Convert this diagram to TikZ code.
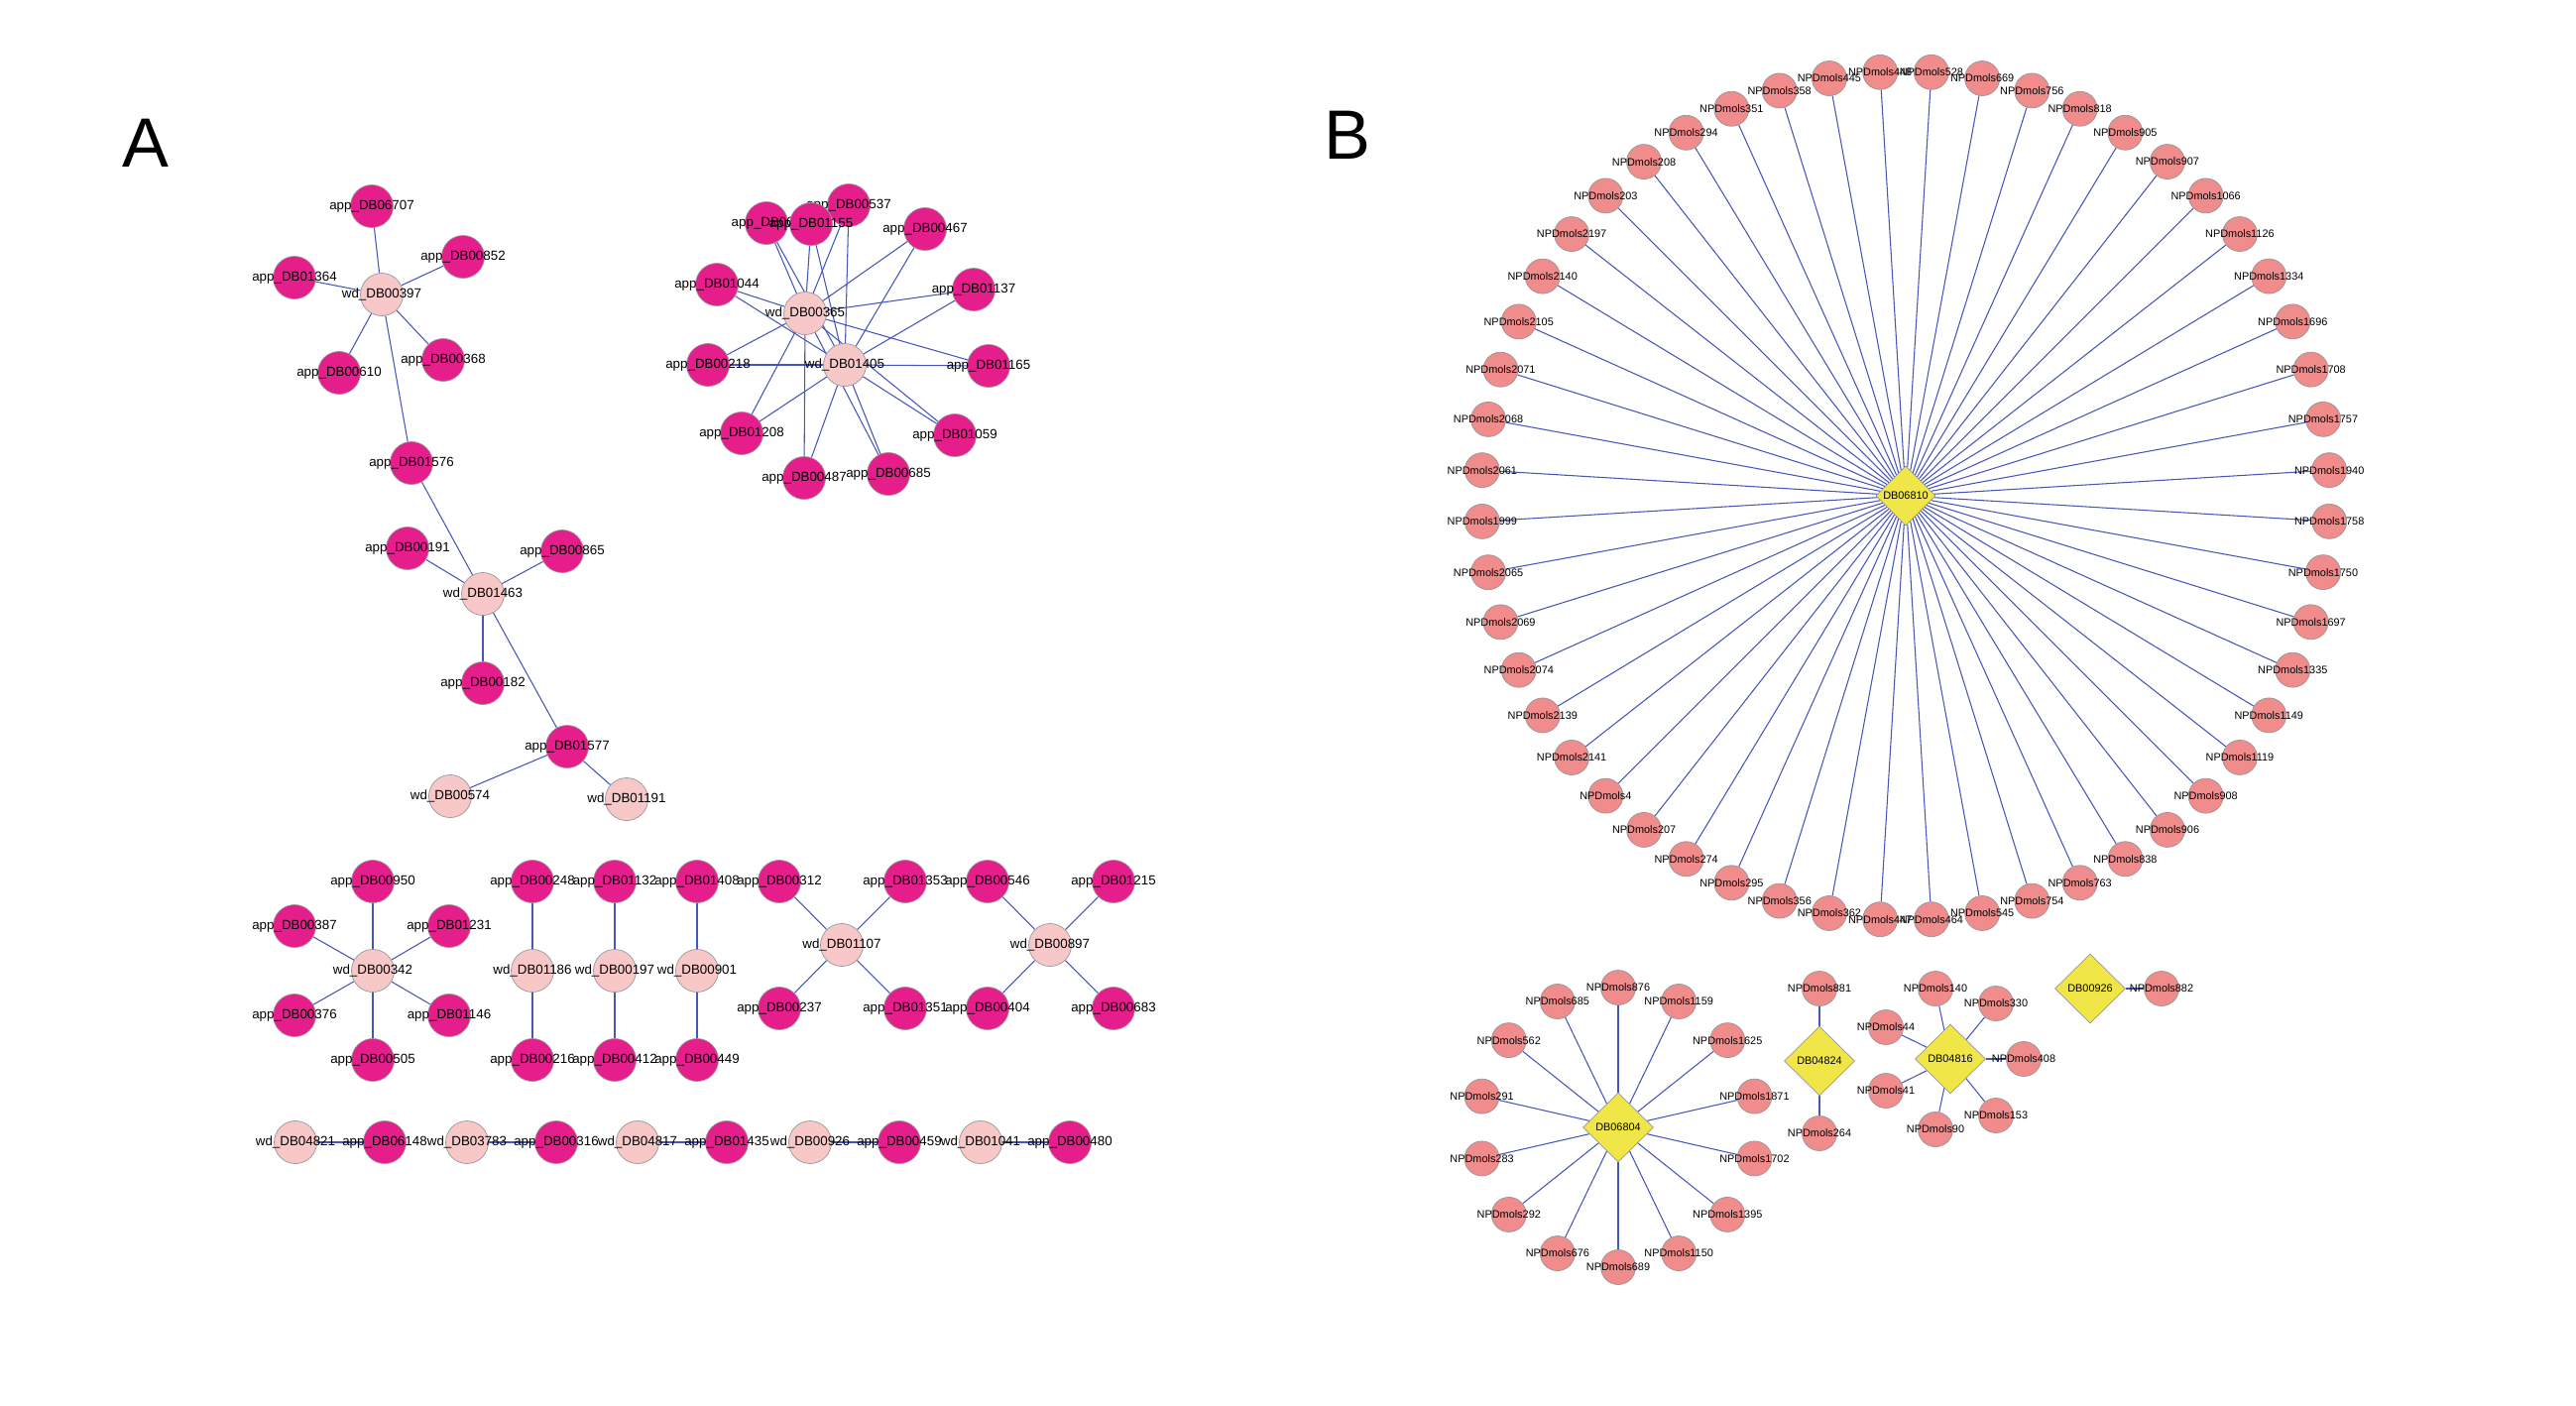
\documentclass[tikz,border=0pt]{standalone}
\usepackage{fontspec}
\setmainfont{Liberation Sans}
\usetikzlibrary{shapes.geometric,backgrounds}

\definecolor{appc}{RGB}{230,30,140}
\definecolor{wdc}{RGB}{248,200,200}
\definecolor{npdc}{RGB}{240,140,140}
\definecolor{dbc}{RGB}{240,230,72}
\definecolor{edgec}{RGB}{70,85,185}
\definecolor{rimc}{RGB}{150,150,150}

\newcommand{\nlab}[1]{\makebox[0pt]{#1}}

\tikzset{
  app/.style={circle,fill=appc,draw=rimc,line width=0.4pt,minimum size=8.6mm,
    inner sep=0pt,font=\fontsize{7.6}{8}\selectfont},
  wd/.style={app,fill=wdc},
  npd/.style={circle,fill=npdc,draw=rimc,line width=0.4pt,minimum size=7mm,
    inner sep=0pt,font=\fontsize{6.2}{7}\selectfont},
  drug/.style={diamond,fill=dbc,draw=rimc,line width=0.4pt,minimum width=14.2mm,
    minimum height=14mm,inner sep=0pt,font=\fontsize{6.2}{7}\selectfont},
  link/.style={draw=edgec,line width=0.6pt},
  panel/.style={font=\fontsize{40}{44}\selectfont}
}

\begin{document}
\begin{tikzpicture}[x=0.2mm,y=-0.2mm]
  \useasboundingbox (0,0) rectangle (2598,1417);
  \node[panel] (pa) at (147,144) {A};
  \node[panel] (pb) at (1359,136) {B};

  % A: chain wd_DB00397 - wd_DB01463
  \node[wd] (w00397) at (385,297) {\nlab{wd\_DB00397}};
  \foreach \n/\x/\y in {06707/375/208,00852/467/259,01364/297/280,00610/342/376,
      00368/447/363,01576/415/467,00191/411/553,00865/567/556,00182/487/689,01577/572/753}{%
    \node[app] (a\n) at (\x,\y) {\nlab{app\_DB\n}};
  }
  \node[wd] (w01463) at (487,599) {\nlab{wd\_DB01463}};
  \node[wd] (w00574) at (454,803) {\nlab{wd\_DB00574}};
  \node[wd] (w01191) at (632,806) {\nlab{wd\_DB01191}};

  % A: two hubs
  \foreach \n/\x/\y in {00537/856/207,006/773/225,01155/818/226,00467/933/231,
      01044/723/287,01137/982/292,00218/714/368,01165/997/369,01208/748/437,
      01059/963/439,00487/811/482,00685/896/478}{%
    \node[app] (a\n) at (\x,\y) {\nlab{app\_DB\n}};
  }
  \node[wd] (w00365) at (812,316) {\nlab{wd\_DB00365}};
  \node[wd] (w01405) at (852,368) {\nlab{wd\_DB01405}};

  % A: small stars and pairs
  \node[wd] (w00342) at (376,979) {\nlab{wd\_DB00342}};
  \foreach \n/\x/\y in {00950/376/889,00387/297/934,01231/453/934,00376/297/1024,
      01146/453/1024,00505/376/1069,00248/537/889,00216/537/1069,01132/620/889,
      00412/620/1069,01408/703/889,00449/703/1069,00312/786/889,01353/913/889,
      00237/786/1017,01351/913/1017,00546/996/889,01215/1123/889,00404/996/1017,
      00683/1123/1017}{%
    \node[app] (a\n) at (\x,\y) {\nlab{app\_DB\n}};
  }
  \foreach \n/\x/\y in {01186/537/979,00197/620/979,00901/703/979,01107/849/953,
      00897/1059/953}{%
    \node[wd] (w\n) at (\x,\y) {\nlab{wd\_DB\n}};
  }
  \foreach \w/\a/\x in {04821/06148/298,03783/00316/471,04817/01435/643,
      00926/00459/817,01041/00480/989}{%
    \node[wd] (w\w) at (\x,1152) {\nlab{wd\_DB\w}};
    \node[app] (a\a) at (\x+90,1152) {\nlab{app\_DB\a}};
  }

  % B: ring round DB06810
  \node[drug,minimum width=12mm,minimum height=12mm] (d06810) at (1922,500) {\nlab{DB06810}};
  \foreach \v [count=\i] in {445,448,528,669,756,818,905,907,1066,1126,1334,1696,
      1708,1757,1940,1758,1750,1697,1335,1149,1119,908,906,838,763,754,545,464,
      447,362,356,295,274,207,4,2141,2139,2074,2069,2065,1999,2061,2068,2071,
      2105,2140,2197,203,208,294,351,358}{%
    \node[npd] (n\v) at ({1922+428*cos(-90+(\i-2.5)/52*360)},{500+428*sin(-90+(\i-2.5)/52*360)}) {\nlab{NPDmols\v}};
  }

  % B: DB06804 star
  \begin{scope}[shift={(1632,1137)}]
    \node[drug] (d06804) at (0,0) {\nlab{DB06804}};
    \foreach \v [count=\i] in {876,1159,1625,1871,1702,1395,1150,689,676,292,283,291,562,685}{%
      \node[npd] (n\v) at ({-90+(\i-1)/14*360}:141) {\nlab{NPDmols\v}};
    }
  \end{scope}

  % B: small ones
  \node[drug] (d04824) at (1835,1070) {\nlab{DB04824}};
  \node[drug] (d04816) at (1967,1068) {\nlab{DB04816}};
  \node[drug] (d00926) at (2108,997) {\nlab{DB00926}};
  \foreach \v/\x/\y in {881/1835/997,264/1835/1143,140/1952/997,330/2013/1012,
      44/1902/1036,408/2041/1068,41/1902/1100,153/2013/1125,90/1952/1139,882/2180/997}{%
    \node[npd] (n\v) at (\x,\y) {\nlab{NPDmols\v}};
  }

  \begin{scope}[on background layer]
    \foreach \s/\t in {w00397/a06707,w00397/a00852,w00397/a01364,w00397/a00610,
        w00397/a00368,w00397/a01576,a01576/w01463,w01463/a00191,w01463/a00865,
        w01463/a00182,w01463/a01577,a01577/w00574,a01577/w01191,
        w00342/a00950,w00342/a00387,w00342/a01231,w00342/a00376,w00342/a01146,
        w00342/a00505,w01186/a00248,w01186/a00216,w00197/a01132,w00197/a00412,
        w00901/a01408,w00901/a00449,w01107/a00312,w01107/a01353,w01107/a00237,
        w01107/a01351,w00897/a00546,w00897/a01215,w00897/a00404,w00897/a00683,
        w04821/a06148,w03783/a00316,w04817/a01435,w00926/a00459,w01041/a00480,
        d04824/n881,d04824/n264,d04816/n140,d04816/n330,d04816/n44,d04816/n408,
        d04816/n41,d04816/n153,d04816/n90,d00926/n882}{%
      \draw[link] (\s) -- (\t);
    }
    \foreach \t in {00537,006,01155,00467,01044,01137,00218,01165,01208,01059,00487,00685}{%
      \draw[link] (w00365) -- (a\t);
      \draw[link] (w01405) -- (a\t);
    }
    \foreach \v in {445,448,528,669,756,818,905,907,1066,1126,1334,1696,
        1708,1757,1940,1758,1750,1697,1335,1149,1119,908,906,838,763,754,545,464,
        447,362,356,295,274,207,4,2141,2139,2074,2069,2065,1999,2061,2068,2071,
        2105,2140,2197,203,208,294,351,358}{%
      \draw[link] (d06810) -- (n\v);
    }
    \foreach \v in {876,1159,1625,1871,1702,1395,1150,689,676,292,283,291,562,685}{%
      \draw[link] (d06804) -- (n\v);
    }
  \end{scope}
\end{tikzpicture}
\end{document}
